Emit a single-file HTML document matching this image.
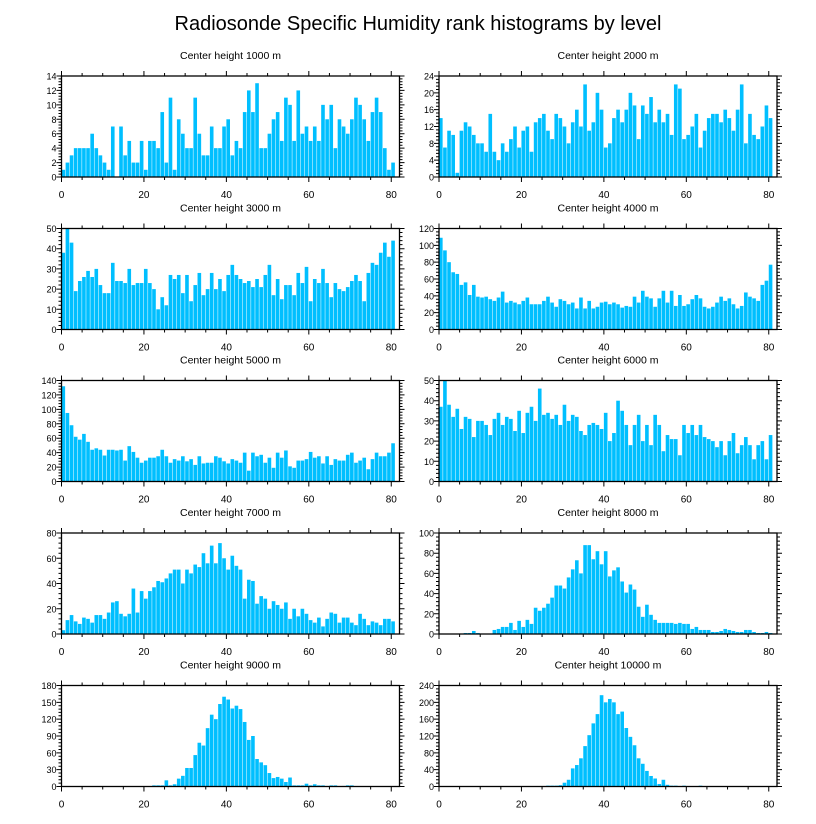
<!DOCTYPE html>
<html><head><meta charset="utf-8"><style>
html,body{margin:0;padding:0;background:#fff}
svg{display:block;font-family:"Liberation Sans",sans-serif}
</style></head><body>
<svg id="c" width="816" height="824" viewBox="0 0 816 824">
<text x="418" y="30" font-size="20" text-anchor="middle">Radiosonde Specific Humidity rank histograms by level</text>
</svg>
<script>
const panelTitles = ["Center height 1000 m","Center height 2000 m","Center height 3000 m","Center height 4000 m","Center height 5000 m","Center height 6000 m","Center height 7000 m","Center height 8000 m","Center height 9000 m","Center height 10000 m"];
const yMaxes = [14,24,50,120,140,50,80,100,180,240];
const yStepsMajor = [2,4,10,20,20,10,20,20,30,40];
const xTickLabels = [0,20,40,60,80];
const counts1000 = [1,2,3,4,4,4,4,6,4,3,2,1,7,0,7,3,5,2,2,5,1,5,5,4,9,2,11,1,8,6,4,4,11,6,3,3,7,4,4,7,8,3,5,4,9,12,9,13,4,4,6,8,9,5,11,10,5,12,6,7,5,7,5,10,8,10,4,8,7,6,8,11,10,8,5,9,11,9,4,1,2];
const counts2000 = [14,7,11,10,1,11,13,12,10,8,8,6,15,6,4,8,6,9,12,7,11,12,6,13,14,15,11,9,15,14,12,8,13,16,12,22,11,13,20,16,7,8,14,16,13,16,20,17,9,17,15,19,13,16,13,15,10,22,21,9,10,12,15,7,11,14,15,15,13,16,14,11,16,22,8,15,10,9,12,17,14];
const counts3000 = [38,50,43,19,24,26,29,26,30,22,18,18,33,24,24,23,30,22,23,23,30,23,20,10,16,12,27,25,27,18,27,14,22,28,17,20,28,20,25,19,27,32,27,25,23,24,21,25,21,27,32,17,25,15,22,22,17,28,23,31,14,25,23,30,23,16,23,20,19,21,24,27,24,14,28,33,32,38,43,36,44];
const counts4000 = [109,94,80,68,66,53,56,41,53,39,38,39,36,34,38,45,32,34,32,30,34,38,30,30,30,34,39,32,27,36,34,30,32,25,38,25,34,25,27,32,33,30,32,30,26,28,27,39,32,46,39,37,27,37,46,32,46,28,41,28,30,36,41,37,27,25,27,32,39,34,37,30,25,28,44,39,37,34,53,58,77];
const counts5000 = [132,95,78,62,58,66,55,44,46,44,36,44,44,43,44,29,49,41,33,26,29,33,33,35,44,35,26,31,29,35,28,31,23,35,25,26,26,35,33,28,25,31,29,26,40,15,40,35,37,26,33,19,40,33,43,21,19,29,29,31,41,33,35,25,35,23,31,29,29,37,40,26,29,33,17,31,40,35,35,40,53];
const counts6000 = [37,50,38,32,36,26,32,31,22,30,30,28,23,31,34,28,32,31,25,35,24,34,37,30,46,33,34,31,33,28,38,30,33,32,25,23,28,29,28,26,34,20,24,40,35,28,18,28,33,20,28,18,33,28,15,23,21,21,13,28,24,28,23,28,22,21,20,17,20,13,20,24,14,18,22,18,11,18,20,11,23];
const counts7000 = [3,11,15,10,8,13,12,9,15,15,12,17,25,26,16,14,16,36,17,34,28,34,37,42,41,44,48,51,51,40,51,48,55,53,64,56,70,56,72,60,51,62,54,51,28,43,42,24,30,28,20,26,23,20,25,12,20,14,20,16,11,9,13,6,12,17,16,9,13,13,9,7,16,12,7,10,9,7,12,12,10];
const counts8000 = [0.5,0,0,0,0,0,1,1,3,1,0,0,0,4,5,7,7,11,4,13,7,14,10,26,23,26,30,36,48,48,45,56,64,73,60,88,88,74,82,69,82,57,63,66,52,41,49,44,27,17,29,19,14,11,11,11,11,10,11,10,10,5,7,4,4,4,2,2,3,5,4,3,2,2,4,4,2,1,1,2,1];
const counts9000 = [0,0,0,0,0,0,0,0,0,0,0,0,0,0,0,0,0,0,0,0,0,0,2,2,2,11,2,4,14,19,33,33,56,78,73,104,128,120,147,160,155,139,144,138,115,83,90,49,43,38,24,15,17,14,8,16,2,2,2,5,2,4,2,2,1,2,2,0,1,2,2,0,0,0,0,0,0,0,0,0,0];
const counts10000 = [0,0,0,0,0,0,0,0,0,0,0,0,0,0,0,0,0,0,0,0,0,0,0,0,0,0,2,2,2,3,9,16,43,51,67,96,122,150,172,217,200,208,200,172,178,139,118,98,67,54,37,25,19,6,16,4,2,2,1,2,1,1,1,2,0,0,0,0,0,0,0,0,0,0,0,0,0,0,0,0,0];
const allCounts = [counts1000,counts2000,counts3000,counts4000,counts5000,counts6000,counts7000,counts8000,counts9000,counts10000];

const NS = "http://www.w3.org/2000/svg";
const svg = document.getElementById('c');
const colLeft = [61.5, 439];
const rowTop = [76, 228.5, 380.5, 533, 685.5];
const W = 338, H = 101, XMAX = 82;
function mk(tag, attrs, parent){const e=document.createElementNS(NS,tag);for(const k in attrs)e.setAttribute(k,attrs[k]);parent.appendChild(e);return e;}

allCounts.forEach((counts, p) => {
  const x0 = colLeft[p % 2], y0 = rowTop[Math.floor(p / 2)];
  const ymax = yMaxes[p], step = yStepsMajor[p];
  const sx = v => x0 + v * W / XMAX;
  const sy = v => y0 + H - v * H / ymax;
  const g = mk('g', {}, svg);
  
  
  const t = mk('text', {x: x0 + W / 2, y: y0 - 17, 'font-size': 10.5, 'text-anchor': 'middle'}, g);
  t.textContent = panelTitles[p];
  
  
  counts.forEach((v, i) => {
    if (v <= 0) return;
    const r = mk('rect', {x: sx(i), y: sy(v), width: Math.max(0.5, sx(i + 1) - sx(i) - 0.5), height: sy(0) - sy(v), fill: '#00BFFF'}, g);
    
    
  });
  const fr = mk('rect', {x: x0, y: y0, width: W, height: H, fill: 'none', stroke: '#000', 'stroke-width': 1.3}, g);
  
  
  let d = '';
  for (let v = 0; v <= XMAX; v += 5) {
    const len = (v % 20 === 0) ? 5 : 3, x = sx(v);
    d += `M${x},${y0 + H}v${len}M${x},${y0}v${-len}`;
  }
  const minor = step / 5;
  for (let k = 0; k * minor <= ymax + 1e-9; k++) {
    const v = k * minor, len = (k % 5 === 0) ? 5 : 3, y = sy(v);
    d += `M${x0},${y}h${-len}M${x0 + W},${y}h${len}`;
  }
  const tk = mk('path', {d: d, stroke: '#000', 'stroke-width': 1, fill: 'none'}, g);
  
  
  xTickLabels.forEach(v => {
    const tl = mk('text', {x: sx(v), y: y0 + H + 21, 'font-size': 10, 'text-anchor': 'middle'}, g);
    tl.textContent = v;
    
    
  });
  for (let v = 0; v <= ymax; v += step) {
    const tl = mk('text', {x: x0 - 5, y: sy(v) + 3.5, 'font-size': 9, 'text-anchor': 'end'}, g);
    tl.textContent = v;
    
    
  }
});
</script>
</body></html>
